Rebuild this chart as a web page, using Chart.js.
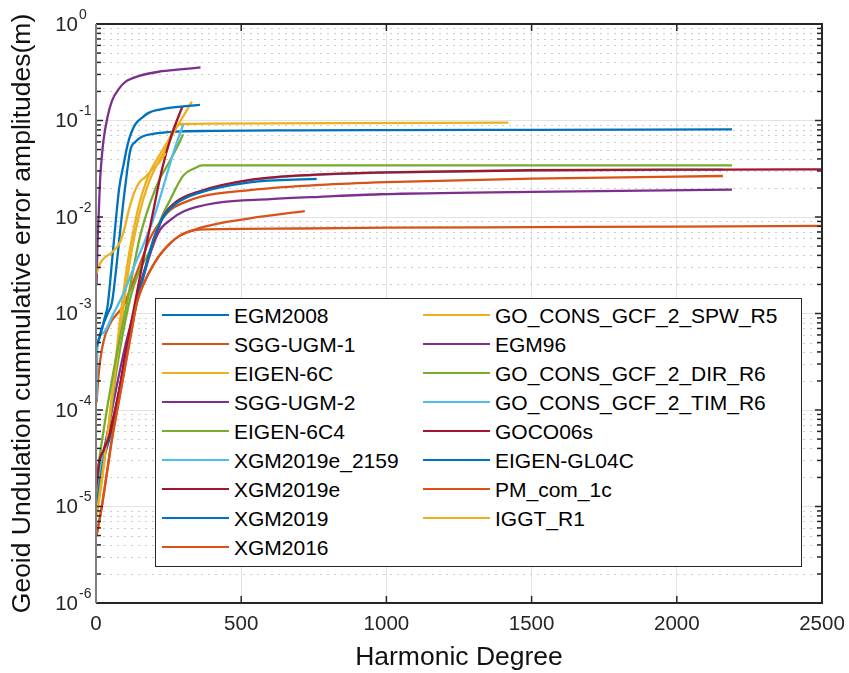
<!DOCTYPE html>
<html>
<head>
<meta charset="utf-8">
<title>Geoid undulation cumulative error</title>
<script src="https://cdn.jsdelivr.net/npm/chart.js@4.4.1/dist/chart.umd.min.js"></script>
<style>
    body { margin: 0; background: #fff; }
    #wrap { position: relative; width: 849px; height: 673px; }
    #legend {
        position: absolute; left: 155px; top: 298px; width: 647px; height: 269px;
        box-sizing: border-box; border: 1px solid #262626; background: #fff;
        font-family: 'Liberation Sans', Arial, sans-serif; font-size: 21px; color: #000;
    }
    .item { position: absolute; height: 29px; line-height: 29px; white-space: nowrap; }
    .item .swatch { position: absolute; left: 0; top: 13px; width: 67px; height: 2px; }
    .item span { position: absolute; left: 72px; top: 0; }
</style>
</head>
<body>
<div id="wrap">
    <canvas id="errChart"></canvas>
    <div id="legend"></div>
</div>
<script>
// 모델 이름 (범례 순서)
const seriesNames = ['EGM2008', 'SGG-UGM-1', 'EIGEN-6C', 'SGG-UGM-2', 'EIGEN-6C4', 'XGM2019e_2159',
    'XGM2019e', 'XGM2019', 'XGM2016', 'GO_CONS_GCF_2_SPW_R5', 'EGM96', 'GO_CONS_GCF_2_DIR_R6',
    'GO_CONS_GCF_2_TIM_R6', 'GOCO06s', 'EIGEN-GL04C', 'PM_com_1c', 'IGGT_R1'];

// 차수 / 누적 오차 (m) - 그림에서 읽은 값
const egm2008Deg = [2, 20, 40, 55, 70, 85, 100, 118, 135, 158, 200, 272, 400, 700, 1000, 1500, 2190];
const egm2008Err = [4.5e-4, 7e-4, 1e-3, 1.3e-3, 3e-3, 8e-3, 0.02, 0.049, 0.06, 0.068, 0.073, 0.0766, 0.078, 0.079, 0.0795, 0.08, 0.081];

const sggUgm1Deg = [2, 10, 25, 50, 94, 130, 160, 186, 210, 255, 300, 358, 530, 770, 1000, 1500, 2159];
const sggUgm1Err = [1.2e-4, 2.5e-4, 5e-4, 8e-4, 1.2e-3, 2.2e-3, 3.8e-3, 6e-3, 8e-3, 0.0118, 0.014, 0.0162, 0.019, 0.0215, 0.023, 0.025, 0.0266];

const eigen6cDeg = [2, 20, 38, 60, 90, 110, 130, 150, 170, 190, 215, 250, 273, 300, 400, 800, 1420];
const eigen6cErr = [8e-6, 1.8e-5, 5e-5, 2e-4, 1.3e-3, 3.5e-3, 7.5e-3, 0.014, 0.022, 0.031, 0.042, 0.063, 0.086, 0.092, 0.093, 0.094, 0.095];

const sggUgm2Deg = [2, 25, 60, 100, 140, 180, 216, 260, 301, 416, 600, 771, 978, 1500, 2190];
const sggUgm2Err = [1.5e-5, 3.5e-5, 1.2e-4, 4.5e-4, 1.3e-3, 3.6e-3, 7e-3, 9.5e-3, 0.0114, 0.014, 0.0153, 0.0162, 0.0172, 0.0182, 0.0192];

const eigen6c4Deg = [2, 20, 38, 70, 117, 150, 186, 220, 255, 301, 340, 365, 1000, 2190];
const eigen6c4Err = [1e-5, 3e-5, 5e-5, 2.5e-4, 1.4e-3, 2.8e-3, 4.5e-3, 9e-3, 0.015, 0.027, 0.032, 0.0343, 0.0343, 0.0343];

const xgm2019e2159Deg = [2, 26, 50, 80, 110, 140, 170, 200, 232, 278, 358, 530, 760, 1000, 1500, 2159];
const xgm2019e2159Err = [1.7e-5, 3.7e-5, 6e-5, 1.6e-4, 5e-4, 1.4e-3, 3e-3, 5.8e-3, 0.0102, 0.0145, 0.0185, 0.024, 0.0274, 0.0289, 0.0304, 0.0309];

const xgm2019eDeg = [2, 12, 26, 50, 80, 110, 140, 170, 200, 232, 278, 358, 530, 760, 1000, 1500, 2159, 2500];
const xgm2019eErr = [1.7e-5, 3e-5, 3.8e-5, 6.5e-5, 1.6e-4, 5e-4, 1.4e-3, 3e-3, 5.8e-3, 0.0102, 0.0145, 0.0185, 0.0242, 0.0275, 0.029, 0.0305, 0.031, 0.0312];

const xgm2019Deg = [2, 26, 50, 80, 110, 140, 170, 197, 232, 278, 358, 530, 760];
const xgm2019Err = [1e-5, 3e-5, 5.5e-5, 1.5e-4, 4.8e-4, 1.3e-3, 2.9e-3, 5.8e-3, 0.01, 0.0139, 0.0179, 0.0229, 0.0248];

const xgm2016Deg = [2, 20, 40, 55, 80, 100, 120, 141, 160, 200, 232, 285, 358, 450, 530, 719];
const xgm2016Err = [5e-6, 1e-5, 2.5e-5, 5e-5, 1.3e-4, 2.8e-4, 6e-4, 1.3e-3, 1.9e-3, 3.3e-3, 4.5e-3, 6.3e-3, 7.7e-3, 8.9e-3, 9.7e-3, 0.0115];

const spwR5Deg = [2, 20, 38, 60, 95, 120, 150, 180, 210, 239, 262, 300, 330];
const spwR5Err = [8e-6, 2e-5, 5e-5, 1.8e-4, 1.2e-3, 4e-3, 0.011, 0.022, 0.035, 0.05, 0.07, 0.11, 0.157];

const egm96Deg = [2, 5, 10, 14, 20, 26, 40, 55, 80, 100, 150, 216, 300, 360];
const egm96Err = [0.002, 0.005, 0.012, 0.024, 0.042, 0.063, 0.11, 0.16, 0.215, 0.25, 0.29, 0.32, 0.34, 0.355];

const dirR6Deg = [2, 21, 60, 107, 150, 190, 220, 250, 275, 300];
const dirR6Err = [1.9e-5, 4.9e-5, 2.5e-4, 1.3e-3, 6e-3, 0.015, 0.025, 0.036, 0.05, 0.072];

const timR6Deg = [2, 5, 25, 60, 94, 130, 170, 200, 240, 270, 300];
const timR6Err = [1.3e-4, 4.5e-4, 6.3e-4, 1e-3, 1.6e-3, 3e-3, 5.8e-3, 0.01, 0.025, 0.05, 0.09];

const goco06sDeg = [2, 12, 26, 50, 80, 105, 130, 160, 190, 227, 260, 298];
const goco06sErr = [1.7e-5, 3e-5, 3.8e-5, 6e-5, 1.6e-4, 4.5e-4, 1.1e-3, 3.3e-3, 9e-3, 0.031, 0.07, 0.141];

const gl04cDeg = [2, 15, 30, 40, 60, 80, 95, 110, 134, 160, 181, 220, 260, 300, 358];
const gl04cErr = [4.5e-4, 6e-4, 9e-4, 1.2e-3, 5e-3, 0.02, 0.035, 0.058, 0.09, 0.108, 0.12, 0.13, 0.136, 0.14, 0.145];

const pmCom1cDeg = [2, 20, 40, 55, 80, 100, 120, 141, 160, 200, 232, 285, 340, 380, 700, 1000, 1500, 2000, 2500];
const pmCom1cErr = [5e-6, 1e-5, 2.5e-5, 5e-5, 1.3e-4, 2.8e-4, 6e-4, 1.3e-3, 1.9e-3, 3.3e-3, 4.5e-3, 6.3e-3, 7.3e-3, 7.45e-3, 7.6e-3, 7.75e-3, 7.85e-3, 7.95e-3, 8.1e-3];

const iggtR1Deg = [2, 14, 30, 55, 83, 100, 113, 135, 150, 170, 193, 215, 240];
const iggtR1Err = [2.6e-3, 3.3e-3, 3.8e-3, 4.3e-3, 5.5e-3, 8e-3, 0.0118, 0.019, 0.023, 0.026, 0.031, 0.036, 0.046];

// 축 눈금
const xTickValues = [0, 500, 1000, 1500, 2000, 2500];
const yTickExponents = [0, -1, -2, -3, -4, -5, -6];

const seriesDegrees = [egm2008Deg, sggUgm1Deg, eigen6cDeg, sggUgm2Deg, eigen6c4Deg, xgm2019e2159Deg,
    xgm2019eDeg, xgm2019Deg, xgm2016Deg, spwR5Deg, egm96Deg, dirR6Deg, timR6Deg, goco06sDeg,
    gl04cDeg, pmCom1cDeg, iggtR1Deg];
const seriesErrors = [egm2008Err, sggUgm1Err, eigen6cErr, sggUgm2Err, eigen6c4Err, xgm2019e2159Err,
    xgm2019eErr, xgm2019Err, xgm2016Err, spwR5Err, egm96Err, dirR6Err, timR6Err, goco06sErr,
    gl04cErr, pmCom1cErr, iggtR1Err];

// MATLAB 기본 색상 순서
const lineColors = ['#0072BD', '#D95319', '#EDB120', '#7E2F8E', '#77AC30', '#4DBEEE', '#A2142F'];

const tickFamily = "'Liberation Sans', Arial, sans-serif";
const axisColor = '#262626';

document.addEventListener('DOMContentLoaded', function() {
    buildChart();
    buildLegend();
});

// 차트 생성
function buildChart() {
    const datasets = seriesNames.map((name, i) => ({
        label: name,
        data: seriesDegrees[i].map((d, k) => ({ x: d, y: seriesErrors[i][k] })),
        borderColor: lineColors[i % lineColors.length],
        borderWidth: 2.3,
        pointRadius: 0,
        fill: false,
        cubicInterpolationMode: 'monotone',
        order: seriesNames.length - i   // 나중 것이 위에 그려지도록
    }));

    const decades = yTickExponents.map(e => Math.pow(10, e));

    new Chart(document.getElementById('errChart'), {
        type: 'line',
        data: { datasets: datasets },
        options: {
            responsive: true,
            maintainAspectRatio: false,
            animation: false,
            layout: { padding: { top: 24, right: 27, left: 0, bottom: 0 } },
            plugins: {
                legend: { display: false },
                tooltip: { enabled: false }
            },
            scales: {
                x: {
                    type: 'linear',
                    min: 0,
                    max: 2500,
                    afterBuildTicks: s => { s.ticks = xTickValues.map(v => ({ value: v })); },
                    ticks: {
                        color: axisColor,
                        font: { family: tickFamily, size: 20.5 },
                        padding: 9,
                        maxRotation: 0,
                        callback: v => String(v)
                    },
                    grid: {
                        drawTicks: false,
                        color: ctx => (ctx.tick && ctx.tick.value > 0 && ctx.tick.value < 2500) ? '#e2e2e2' : 'rgba(0,0,0,0)'
                    },
                    border: { display: false },
                    title: {
                        display: true,
                        text: 'Harmonic Degree',
                        color: '#111',
                        font: { family: tickFamily, size: 26.5, lineHeight: 1 },
                        padding: { top: 0, bottom: 2 }
                    },
                    // 축 높이 고정, 끝 라벨 때문에 그림 영역이 줄지 않게
                    afterFit: s => { s.height = 70; s.paddingLeft = 0; s.paddingRight = 0; }
                },
                y: {
                    type: 'logarithmic',
                    min: 1e-6,
                    max: 1,
                    afterBuildTicks: s => { s.ticks = decades.map(v => ({ value: v })); },
                    ticks: { display: false },
                    grid: {
                        drawTicks: false,
                        color: ctx => (ctx.tick && ctx.tick.value > 1e-6 && ctx.tick.value < 1) ? '#e2e2e2' : 'rgba(0,0,0,0)'
                    },
                    border: { display: false },
                    title: {
                        display: true,
                        text: 'Geoid Undulation cummulative error amplitudes(m)',
                        color: '#111',
                        font: { family: tickFamily, size: 26.5, lineHeight: 1 },
                        padding: { top: 9, bottom: 0 }
                    },
                    afterFit: s => { s.width = 96; s.paddingTop = 0; s.paddingBottom = 0; }
                }
            }
        },
        plugins: [matlabAxes]
    });
}

// 보조 격자, 안쪽 눈금, 테두리, y 눈금 라벨
const matlabAxes = {
    id: 'matlabAxes',
    beforeDatasetsDraw(chart) {
        const { ctx, chartArea: a, scales: { y } } = chart;
        ctx.save();
        ctx.strokeStyle = '#cccccc';
        ctx.lineWidth = 1;
        ctx.setLineDash([2, 5]);
        minorValues().forEach(v => {
            const py = Math.round(y.getPixelForValue(v)) + 0.5;
            ctx.beginPath();
            ctx.moveTo(a.left, py);
            ctx.lineTo(a.right, py);
            ctx.stroke();
        });
        ctx.restore();
    },
    afterDraw(chart) {
        const { ctx, chartArea: a, scales: { x, y } } = chart;
        ctx.save();
        ctx.strokeStyle = axisColor;
        ctx.lineWidth = 1.5;

        // y 눈금 (좌우, 안쪽)
        yTickExponents.forEach(e => {
            const py = y.getPixelForValue(Math.pow(10, e));
            tick(ctx, a.left, py, 7, 0);
            tick(ctx, a.right, py, -7, 0);
        });
        minorValues().forEach(v => {
            const py = y.getPixelForValue(v);
            tick(ctx, a.left, py, 5, 0);
            tick(ctx, a.right, py, -5, 0);
        });
        // x 눈금 (위아래, 안쪽)
        xTickValues.forEach(v => {
            const px = x.getPixelForValue(v);
            tick(ctx, px, a.bottom, 0, -7);
            tick(ctx, px, a.top, 0, 7);
        });

        // 테두리
        ctx.lineWidth = 2;
        ctx.beginPath();
        ctx.moveTo(a.left, a.bottom);
        ctx.lineTo(a.right, a.bottom);
        ctx.lineTo(a.right, a.top);
        ctx.lineTo(a.left, a.top);
        ctx.stroke();
        ctx.strokeStyle = '#7f7f7f';
        ctx.beginPath();
        ctx.moveTo(a.left, a.top);
        ctx.lineTo(a.left, a.bottom);
        ctx.stroke();

        // y 눈금 라벨 10^n
        ctx.fillStyle = axisColor;
        yTickExponents.forEach(e => {
            const py = y.getPixelForValue(Math.pow(10, e));
            ctx.font = '20.5px ' + tickFamily;
            ctx.textAlign = 'right';
            ctx.textBaseline = 'middle';
            ctx.fillText('10', a.left - 18, py + 1);
            ctx.font = '14px ' + tickFamily;
            ctx.textAlign = 'left';
            ctx.fillText(String(e), a.left - 17, py - 9);
        });
        ctx.restore();
    }
};

function tick(ctx, px, py, dx, dy) {
    ctx.beginPath();
    ctx.moveTo(px, py);
    ctx.lineTo(px + dx, py + dy);
    ctx.stroke();
}

function minorValues() {
    const out = [];
    for (let e = -6; e < 0; e++) {
        for (let m = 2; m <= 9; m++) {
            out.push(m * Math.pow(10, e));
        }
    }
    return out;
}

// 범례 (2열)
function buildLegend() {
    const box = document.getElementById('legend');
    seriesNames.forEach((name, i) => {
        const col = i < 9 ? 0 : 1;
        const row = col === 0 ? i : i - 9;
        const item = document.createElement('div');
        item.className = 'item';
        item.style.left = (col === 0 ? 6 : 267) + 'px';
        item.style.top = Math.round(2.2 + row * 28.95) + 'px';
        item.innerHTML = `<div class="swatch" style="background:${lineColors[i % lineColors.length]}"></div><span>${name}</span>`;
        box.appendChild(item);
    });
}
</script>
</body>
</html>
